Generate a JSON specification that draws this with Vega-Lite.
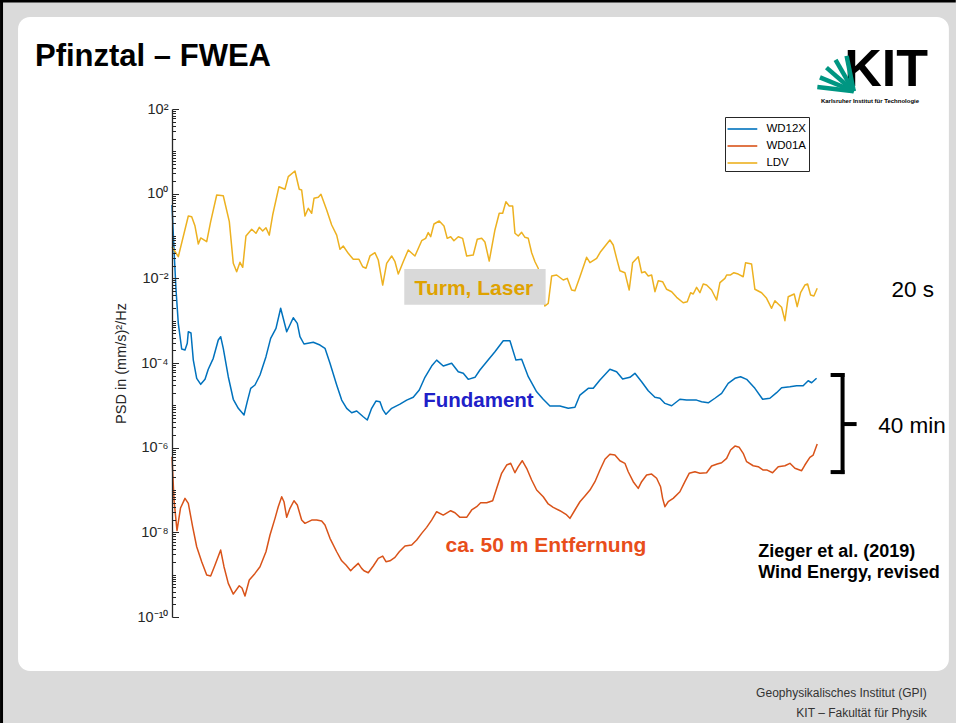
{
"$schema": "https://vega.github.io/schema/vega-lite/v6.json",
"width": 646, "height": 508,
"autosize": {"type": "none"},
"padding": {"left": 172, "top": 109, "right": 138, "bottom": 106},
"background": "#dadada",
"config": {"font": "Liberation Sans", "view": {"stroke": null}},
"resolve": {"axis": {"y": "independent"}},
"layer": [
{"data": {"values": [{}]}, "mark": {"type": "rect", "fill": "white", "cornerRadius": 12},
 "encoding": {"x": {"datum": -2.309, "axis": null}, "x2": {"datum": 12.014}, "y": {"datum": 14900, "axis": null}, "y2": {"datum": 5.28e-12}}},
{"data": {"values": [{}]}, "mark": {"type": "rule", "color": "#000000", "strokeWidth": 3},
 "encoding": {"x": {"datum": -2.586, "axis": null}, "x2": {"datum": 12.12}, "y": {"datum": 35560, "axis": null}}},
{"data": {"values": [{}]}, "mark": {"type": "rule", "color": "#000000", "strokeWidth": 3},
 "encoding": {"x": {"datum": -2.563, "axis": null}, "y": {"datum": 37600, "axis": null}, "y2": {"datum": 3.13e-13}}},
{"data": {"values": [{}]}, "mark": {"type": "text", "text": "Pfinztal – FWEA", "align": "left", "baseline": "alphabetic", "fontSize": 31, "fontWeight": "bold", "color": "#000000"},
 "encoding": {"x": {"datum": -2.048, "axis": null}, "y": {"datum": 1038, "axis": null}}},
{"data": {"values": [{}]}, "mark": {"type": "text", "text": "Geophysikalisches Institut (GPI)", "align": "right", "baseline": "alphabetic", "fontSize": 12, "color": "#333333"},
 "encoding": {"x": {"datum": 11.675, "axis": null}, "y": {"datum": 1.29e-12, "axis": null}}},
{"data": {"values": [{}]}, "mark": {"type": "text", "text": "KIT – Fakultät für Physik", "align": "right", "baseline": "alphabetic", "fontSize": 12, "color": "#333333"},
 "encoding": {"x": {"datum": 11.675, "axis": null}, "y": {"datum": 4.34e-13, "axis": null}}},
{"data": {"values": [{}]}, "mark": {"type": "text", "text": "KIT", "align": "right", "baseline": "alphabetic", "fontSize": 52, "fontWeight": "bold", "color": "#000000"},
 "encoding": {"x": {"datum": 11.691, "axis": null}, "y": {"datum": 349, "axis": null}}},
{"data": {"values": [{}]}, "mark": {"type": "text", "text": "Karlsruher Institut für Technologie", "align": "center", "baseline": "alphabetic", "fontSize": 6, "fontWeight": "bold", "color": "#000000"},
 "encoding": {"x": {"datum": 10.80, "axis": null}, "y": {"datum": 135, "axis": null}}},
{"data": {"values": [{}]}, "mark": {"type": "rule", "color": "#009682", "strokeWidth": 4.5},
 "encoding": {"x": {"datum": 10.55, "axis": null}, "x2": {"datum": 9.99}, "y": {"datum": 262, "axis": null}, "y2": {"datum": 330}}},
{"data": {"values": [{}]}, "mark": {"type": "rule", "color": "#009682", "strokeWidth": 4.5},
 "encoding": {"x": {"datum": 10.55, "axis": null}, "x2": {"datum": 10.03}, "y": {"datum": 262, "axis": null}, "y2": {"datum": 560}}},
{"data": {"values": [{}]}, "mark": {"type": "rule", "color": "#009682", "strokeWidth": 4.5},
 "encoding": {"x": {"datum": 10.55, "axis": null}, "x2": {"datum": 10.13}, "y": {"datum": 262, "axis": null}, "y2": {"datum": 950}}},
{"data": {"values": [{}]}, "mark": {"type": "rule", "color": "#009682", "strokeWidth": 4.5},
 "encoding": {"x": {"datum": 10.55, "axis": null}, "x2": {"datum": 10.27}, "y": {"datum": 262, "axis": null}, "y2": {"datum": 1450}}},
{"data": {"values": [{}]}, "mark": {"type": "rule", "color": "#009682", "strokeWidth": 4.5},
 "encoding": {"x": {"datum": 10.55, "axis": null}, "x2": {"datum": 10.44}, "y": {"datum": 262, "axis": null}, "y2": {"datum": 1800}}},
{"data": {"values": [
{"sensor":"WD12X","freq":0.06,"psd":0.540},{"sensor":"WD12X","freq":0.091,"psd":0.0467},{"sensor":"WD12X","freq":0.122,"psd":0.0053},{"sensor":"WD12X","freq":0.157,"psd":8.65e-4},{"sensor":"WD12X","freq":0.209,"psd":2.14e-4},{"sensor":"WD12X","freq":0.260,"psd":2.03e-4},{"sensor":"WD12X","freq":0.295,"psd":2.92e-4},{"sensor":"WD12X","freq":0.311,"psd":5.48e-4},{"sensor":"WD12X","freq":0.352,"psd":5.11e-4},{"sensor":"WD12X","freq":0.388,"psd":1.17e-4},
{"sensor":"WD12X","freq":0.440,"psd":4.35e-5},{"sensor":"WD12X","freq":0.502,"psd":3.13e-5},{"sensor":"WD12X","freq":0.568,"psd":4.11e-5},{"sensor":"WD12X","freq":0.618,"psd":7.10e-5},{"sensor":"WD12X","freq":0.695,"psd":1.29e-4},{"sensor":"WD12X","freq":0.772,"psd":3.49e-4},{"sensor":"WD12X","freq":0.809,"psd":4.18e-4},{"sensor":"WD12X","freq":0.849,"psd":2.22e-4},{"sensor":"WD12X","freq":0.926,"psd":4.74e-5},{"sensor":"WD12X","freq":1.003,"psd":1.39e-5},
{"sensor":"WD12X","freq":1.080,"psd":8.49e-6},{"sensor":"WD12X","freq":1.168,"psd":5.90e-6},{"sensor":"WD12X","freq":1.218,"psd":1.22e-5},{"sensor":"WD12X","freq":1.271,"psd":2.52e-5},{"sensor":"WD12X","freq":1.337,"psd":3.02e-5},{"sensor":"WD12X","freq":1.414,"psd":5.20e-5},{"sensor":"WD12X","freq":1.506,"psd":1.41e-4},{"sensor":"WD12X","freq":1.578,"psd":3.83e-4},{"sensor":"WD12X","freq":1.660,"psd":6.59e-4},{"sensor":"WD12X","freq":1.732,"psd":1.96e-3},
{"sensor":"WD12X","freq":1.825,"psd":5.48e-4},{"sensor":"WD12X","freq":1.926,"psd":1.17e-3},{"sensor":"WD12X","freq":1.988,"psd":8.65e-4},{"sensor":"WD12X","freq":2.029,"psd":4.18e-4},{"sensor":"WD12X","freq":2.091,"psd":2.81e-4},{"sensor":"WD12X","freq":2.234,"psd":3.08e-4},{"sensor":"WD12X","freq":2.337,"psd":2.66e-4},{"sensor":"WD12X","freq":2.414,"psd":2.22e-4},{"sensor":"WD12X","freq":2.491,"psd":9.82e-5},{"sensor":"WD12X","freq":2.594,"psd":3.02e-5},
{"sensor":"WD12X","freq":2.671,"psd":1.33e-5},{"sensor":"WD12X","freq":2.748,"psd":8.49e-6},{"sensor":"WD12X","freq":2.825,"psd":6.68e-6},{"sensor":"WD12X","freq":2.902,"psd":7.34e-6},{"sensor":"WD12X","freq":3.003,"psd":5.38e-6},{"sensor":"WD12X","freq":3.065,"psd":4.50e-6},{"sensor":"WD12X","freq":3.132,"psd":8.49e-6},{"sensor":"WD12X","freq":3.198,"psd":1.26e-5},{"sensor":"WD12X","freq":3.260,"psd":1.22e-5},{"sensor":"WD12X","freq":3.302,"psd":8.05e-6},
{"sensor":"WD12X","freq":3.352,"psd":6.14e-6},{"sensor":"WD12X","freq":3.440,"psd":8.49e-6},{"sensor":"WD12X","freq":3.568,"psd":1.07e-5},{"sensor":"WD12X","freq":3.671,"psd":1.33e-5},{"sensor":"WD12X","freq":3.772,"psd":1.55e-5},{"sensor":"WD12X","freq":3.865,"psd":2.30e-5},{"sensor":"WD12X","freq":3.952,"psd":4.59e-5},{"sensor":"WD12X","freq":4.055,"psd":8.49e-5},{"sensor":"WD12X","freq":4.132,"psd":1.17e-4},{"sensor":"WD12X","freq":4.234,"psd":8.49e-5},
{"sensor":"WD12X","freq":4.363,"psd":9.82e-5},{"sensor":"WD12X","freq":4.465,"psd":6.22e-5},{"sensor":"WD12X","freq":4.542,"psd":5.70e-5},{"sensor":"WD12X","freq":4.618,"psd":4.11e-5},{"sensor":"WD12X","freq":4.722,"psd":4.59e-5},{"sensor":"WD12X","freq":4.798,"psd":6.82e-5},{"sensor":"WD12X","freq":4.902,"psd":1.07e-4},{"sensor":"WD12X","freq":5.029,"psd":1.85e-4},{"sensor":"WD12X","freq":5.157,"psd":3.36e-4},{"sensor":"WD12X","freq":5.260,"psd":3.36e-4},
{"sensor":"WD12X","freq":5.352,"psd":1.17e-4},{"sensor":"WD12X","freq":5.440,"psd":1.22e-4},{"sensor":"WD12X","freq":5.542,"psd":4.74e-5},{"sensor":"WD12X","freq":5.671,"psd":2.09e-5},{"sensor":"WD12X","freq":5.772,"psd":1.39e-5},{"sensor":"WD12X","freq":5.875,"psd":9.64e-6},{"sensor":"WD12X","freq":6.029,"psd":9.64e-6},{"sensor":"WD12X","freq":6.157,"psd":8.49e-6},{"sensor":"WD12X","freq":6.260,"psd":8.97e-6},{"sensor":"WD12X","freq":6.337,"psd":1.75e-5},
{"sensor":"WD12X","freq":6.465,"psd":2.52e-5},{"sensor":"WD12X","freq":6.542,"psd":2.52e-5},{"sensor":"WD12X","freq":6.645,"psd":3.96e-5},{"sensor":"WD12X","freq":6.798,"psd":7.10e-5},{"sensor":"WD12X","freq":6.901,"psd":6.22e-5},{"sensor":"WD12X","freq":6.994,"psd":4.19e-5},{"sensor":"WD12X","freq":7.106,"psd":4.59e-5},{"sensor":"WD12X","freq":7.183,"psd":5.70e-5},{"sensor":"WD12X","freq":7.286,"psd":3.61e-5},{"sensor":"WD12X","freq":7.388,"psd":2.21e-5},
{"sensor":"WD12X","freq":7.491,"psd":1.55e-5},{"sensor":"WD12X","freq":7.568,"psd":1.47e-5},{"sensor":"WD12X","freq":7.645,"psd":1.11e-5},{"sensor":"WD12X","freq":7.748,"psd":9.79e-6},{"sensor":"WD12X","freq":7.875,"psd":1.39e-5},{"sensor":"WD12X","freq":7.978,"psd":1.33e-5},{"sensor":"WD12X","freq":8.132,"psd":1.33e-5},{"sensor":"WD12X","freq":8.209,"psd":1.22e-5},{"sensor":"WD12X","freq":8.311,"psd":1.15e-5},{"sensor":"WD12X","freq":8.414,"psd":1.47e-5},
{"sensor":"WD12X","freq":8.517,"psd":1.92e-5},{"sensor":"WD12X","freq":8.618,"psd":3.31e-5},{"sensor":"WD12X","freq":8.722,"psd":4.35e-5},{"sensor":"WD12X","freq":8.809,"psd":4.74e-5},{"sensor":"WD12X","freq":8.902,"psd":4.11e-5},{"sensor":"WD12X","freq":9.029,"psd":2.52e-5},{"sensor":"WD12X","freq":9.148,"psd":1.39e-5},{"sensor":"WD12X","freq":9.260,"psd":1.47e-5},{"sensor":"WD12X","freq":9.363,"psd":1.99e-5},{"sensor":"WD12X","freq":9.440,"psd":2.61e-5},
{"sensor":"WD12X","freq":9.568,"psd":2.75e-5},{"sensor":"WD12X","freq":9.671,"psd":2.90e-5},{"sensor":"WD12X","freq":9.772,"psd":2.90e-5},{"sensor":"WD12X","freq":9.849,"psd":3.81e-5},{"sensor":"WD12X","freq":9.902,"psd":3.42e-5},{"sensor":"WD12X","freq":9.978,"psd":4.35e-5},
{"sensor":"WD01A","freq":0.06,"psd":6.11e-7},{"sensor":"WD01A","freq":0.091,"psd":5.79e-8},{"sensor":"WD01A","freq":0.137,"psd":1.10e-8},{"sensor":"WD01A","freq":0.191,"psd":3.75e-8},{"sensor":"WD01A","freq":0.260,"psd":6.35e-8},{"sensor":"WD01A","freq":0.311,"psd":4.84e-8},{"sensor":"WD01A","freq":0.378,"psd":1.35e-8},{"sensor":"WD01A","freq":0.440,"psd":4.57e-9},{"sensor":"WD01A","freq":0.517,"psd":2.02e-9},{"sensor":"WD01A","freq":0.594,"psd":9.79e-10},
{"sensor":"WD01A","freq":0.655,"psd":9.29e-10},{"sensor":"WD01A","freq":0.722,"psd":1.69e-9},{"sensor":"WD01A","freq":0.809,"psd":3.82e-9},{"sensor":"WD01A","freq":0.860,"psd":1.54e-9},{"sensor":"WD01A","freq":0.926,"psd":6.24e-10},{"sensor":"WD01A","freq":1.003,"psd":3.48e-10},{"sensor":"WD01A","freq":1.095,"psd":5.47e-10},{"sensor":"WD01A","freq":1.137,"psd":4.83e-10},{"sensor":"WD01A","freq":1.183,"psd":3.13e-10},{"sensor":"WD01A","freq":1.249,"psd":7.46e-10},
{"sensor":"WD01A","freq":1.337,"psd":1.07e-9},{"sensor":"WD01A","freq":1.414,"psd":1.54e-9},{"sensor":"WD01A","freq":1.506,"psd":3.48e-9},{"sensor":"WD01A","freq":1.568,"psd":8.63e-9},{"sensor":"WD01A","freq":1.645,"psd":2.14e-8},{"sensor":"WD01A","freq":1.695,"psd":4.03e-8},{"sensor":"WD01A","freq":1.748,"psd":6.93e-8},{"sensor":"WD01A","freq":1.783,"psd":5.28e-8},{"sensor":"WD01A","freq":1.825,"psd":2.26e-8},{"sensor":"WD01A","freq":1.875,"psd":3.69e-8},
{"sensor":"WD01A","freq":1.937,"psd":5.57e-8},{"sensor":"WD01A","freq":1.988,"psd":4.42e-8},{"sensor":"WD01A","freq":2.055,"psd":1.95e-8},{"sensor":"WD01A","freq":2.106,"psd":1.63e-8},{"sensor":"WD01A","freq":2.209,"psd":1.95e-8},{"sensor":"WD01A","freq":2.286,"psd":1.95e-8},{"sensor":"WD01A","freq":2.363,"psd":1.85e-8},{"sensor":"WD01A","freq":2.414,"psd":1.49e-8},{"sensor":"WD01A","freq":2.491,"psd":7.21e-9},{"sensor":"WD01A","freq":2.594,"psd":3.48e-9},
{"sensor":"WD01A","freq":2.671,"psd":2.13e-9},{"sensor":"WD01A","freq":2.737,"psd":1.69e-9},{"sensor":"WD01A","freq":2.809,"psd":1.24e-9},{"sensor":"WD01A","freq":2.860,"psd":1.49e-9},{"sensor":"WD01A","freq":2.926,"psd":1.85e-9},{"sensor":"WD01A","freq":2.978,"psd":1.41e-9},{"sensor":"WD01A","freq":3.014,"psd":1.24e-9},{"sensor":"WD01A","freq":3.080,"psd":1.11e-9},{"sensor":"WD01A","freq":3.157,"psd":1.60e-9},{"sensor":"WD01A","freq":3.234,"psd":2.43e-9},
{"sensor":"WD01A","freq":3.302,"psd":2.75e-9},{"sensor":"WD01A","freq":3.352,"psd":2.02e-9},{"sensor":"WD01A","freq":3.414,"psd":2.13e-9},{"sensor":"WD01A","freq":3.491,"psd":2.56e-9},{"sensor":"WD01A","freq":3.557,"psd":3.48e-9},{"sensor":"WD01A","freq":3.645,"psd":4.74e-9},{"sensor":"WD01A","freq":3.748,"psd":5.01e-9},{"sensor":"WD01A","freq":3.825,"psd":6.58e-9},{"sensor":"WD01A","freq":3.902,"psd":9.46e-9},{"sensor":"WD01A","freq":3.978,"psd":1.31e-8},
{"sensor":"WD01A","freq":4.055,"psd":1.95e-8},{"sensor":"WD01A","freq":4.132,"psd":3.07e-8},{"sensor":"WD01A","freq":4.234,"psd":2.56e-8},{"sensor":"WD01A","freq":4.348,"psd":3.24e-8},{"sensor":"WD01A","freq":4.414,"psd":2.90e-8},{"sensor":"WD01A","freq":4.491,"psd":2.26e-8},{"sensor":"WD01A","freq":4.594,"psd":2.26e-8},{"sensor":"WD01A","freq":4.671,"psd":3.37e-8},{"sensor":"WD01A","freq":4.748,"psd":4.03e-8},{"sensor":"WD01A","freq":4.809,"psd":5.00e-8},
{"sensor":"WD01A","freq":4.902,"psd":5.00e-8},{"sensor":"WD01A","freq":4.994,"psd":5.57e-8},{"sensor":"WD01A","freq":5.055,"psd":1.09e-7},{"sensor":"WD01A","freq":5.132,"psd":2.48e-7},{"sensor":"WD01A","freq":5.209,"psd":3.89e-7},{"sensor":"WD01A","freq":5.271,"psd":4.27e-7},{"sensor":"WD01A","freq":5.337,"psd":2.56e-7},{"sensor":"WD01A","freq":5.388,"psd":3.55e-7},{"sensor":"WD01A","freq":5.449,"psd":4.91e-7},{"sensor":"WD01A","freq":5.517,"psd":3.25e-7},
{"sensor":"WD01A","freq":5.594,"psd":1.72e-7},{"sensor":"WD01A","freq":5.671,"psd":9.98e-8},{"sensor":"WD01A","freq":5.772,"psd":6.93e-8},{"sensor":"WD01A","freq":5.849,"psd":4.67e-8},{"sensor":"WD01A","freq":5.926,"psd":3.90e-8},{"sensor":"WD01A","freq":6.029,"psd":3.24e-8},{"sensor":"WD01A","freq":6.122,"psd":2.66e-8},{"sensor":"WD01A","freq":6.183,"psd":2.14e-8},{"sensor":"WD01A","freq":6.260,"psd":3.37e-8},{"sensor":"WD01A","freq":6.337,"psd":5.28e-8},
{"sensor":"WD01A","freq":6.414,"psd":7.21e-8},{"sensor":"WD01A","freq":6.491,"psd":9.98e-8},{"sensor":"WD01A","freq":6.568,"psd":1.57e-7},{"sensor":"WD01A","freq":6.645,"psd":2.96e-7},{"sensor":"WD01A","freq":6.722,"psd":5.31e-7},{"sensor":"WD01A","freq":6.798,"psd":6.97e-7},{"sensor":"WD01A","freq":6.875,"psd":6.70e-7},{"sensor":"WD01A","freq":6.952,"psd":4.91e-7},{"sensor":"WD01A","freq":7.029,"psd":4.27e-7},{"sensor":"WD01A","freq":7.080,"psd":2.70e-7},
{"sensor":"WD01A","freq":7.157,"psd":1.57e-7},{"sensor":"WD01A","freq":7.234,"psd":1.09e-7},{"sensor":"WD01A","freq":7.286,"psd":1.57e-7},{"sensor":"WD01A","freq":7.363,"psd":2.26e-7},{"sensor":"WD01A","freq":7.440,"psd":2.38e-7},{"sensor":"WD01A","freq":7.517,"psd":1.89e-7},{"sensor":"WD01A","freq":7.578,"psd":1.19e-7},{"sensor":"WD01A","freq":7.609,"psd":6.35e-8},{"sensor":"WD01A","freq":7.645,"psd":4.03e-8},{"sensor":"WD01A","freq":7.695,"psd":5.28e-8},
{"sensor":"WD01A","freq":7.772,"psd":6.35e-8},{"sensor":"WD01A","freq":7.875,"psd":9.10e-8},{"sensor":"WD01A","freq":7.952,"psd":1.57e-7},{"sensor":"WD01A","freq":8.018,"psd":2.48e-7},{"sensor":"WD01A","freq":8.106,"psd":2.70e-7},{"sensor":"WD01A","freq":8.183,"psd":2.48e-7},{"sensor":"WD01A","freq":8.286,"psd":2.56e-7},{"sensor":"WD01A","freq":8.363,"psd":3.68e-7},{"sensor":"WD01A","freq":8.449,"psd":4.10e-7},{"sensor":"WD01A","freq":8.517,"psd":4.41e-7},
{"sensor":"WD01A","freq":8.594,"psd":5.60e-7},{"sensor":"WD01A","freq":8.655,"psd":8.79e-7},{"sensor":"WD01A","freq":8.722,"psd":1.09e-6},{"sensor":"WD01A","freq":8.788,"psd":1.02e-6},{"sensor":"WD01A","freq":8.849,"psd":7.35e-7},{"sensor":"WD01A","freq":8.902,"psd":4.66e-7},{"sensor":"WD01A","freq":9.003,"psd":3.74e-7},{"sensor":"WD01A","freq":9.080,"psd":3.55e-7},{"sensor":"WD01A","freq":9.157,"psd":2.96e-7},{"sensor":"WD01A","freq":9.218,"psd":2.96e-7},
{"sensor":"WD01A","freq":9.301,"psd":2.56e-7},{"sensor":"WD01A","freq":9.388,"psd":3.55e-7},{"sensor":"WD01A","freq":9.491,"psd":3.74e-7},{"sensor":"WD01A","freq":9.568,"psd":4.27e-7},{"sensor":"WD01A","freq":9.645,"psd":3.25e-7},{"sensor":"WD01A","freq":9.748,"psd":2.85e-7},{"sensor":"WD01A","freq":9.798,"psd":3.89e-7},{"sensor":"WD01A","freq":9.875,"psd":5.92e-7},{"sensor":"WD01A","freq":9.926,"psd":6.70e-7},{"sensor":"WD01A","freq":9.988,"psd":1.22e-6},
{"sensor":"LDV","freq":0.06,"psd":0.0558},{"sensor":"LDV","freq":0.157,"psd":0.0324},{"sensor":"LDV","freq":0.311,"psd":0.296},{"sensor":"LDV","freq":0.363,"psd":0.286},{"sensor":"LDV","freq":0.414,"psd":0.172},{"sensor":"LDV","freq":0.465,"psd":0.0647},{"sensor":"LDV","freq":0.502,"psd":0.0898},{"sensor":"LDV","freq":0.594,"psd":0.0733},{"sensor":"LDV","freq":0.655,"psd":0.218},{"sensor":"LDV","freq":0.748,"psd":0.929},
{"sensor":"LDV","freq":0.849,"psd":0.895},{"sensor":"LDV","freq":0.942,"psd":0.218},{"sensor":"LDV","freq":1.003,"psd":0.0226},{"sensor":"LDV","freq":1.055,"psd":0.0143},{"sensor":"LDV","freq":1.106,"psd":0.0239},{"sensor":"LDV","freq":1.148,"psd":0.0182},{"sensor":"LDV","freq":1.198,"psd":0.1},{"sensor":"LDV","freq":1.286,"psd":0.144},{"sensor":"LDV","freq":1.352,"psd":0.116},{"sensor":"LDV","freq":1.403,"psd":0.160},
{"sensor":"LDV","freq":1.455,"psd":0.131},{"sensor":"LDV","freq":1.506,"psd":0.157},{"sensor":"LDV","freq":1.557,"psd":0.105},{"sensor":"LDV","freq":1.609,"psd":0.313},{"sensor":"LDV","freq":1.706,"psd":1.46},{"sensor":"LDV","freq":1.798,"psd":1.27},{"sensor":"LDV","freq":1.849,"psd":2.52},{"sensor":"LDV","freq":1.952,"psd":3.43},{"sensor":"LDV","freq":2.018,"psd":1.27},{"sensor":"LDV","freq":2.055,"psd":1.22},
{"sensor":"LDV","freq":2.106,"psd":0.296},{"sensor":"LDV","freq":2.157,"psd":0.451},{"sensor":"LDV","freq":2.209,"psd":0.344},{"sensor":"LDV","freq":2.245,"psd":0.776},{"sensor":"LDV","freq":2.311,"psd":0.820},{"sensor":"LDV","freq":2.352,"psd":0.966},{"sensor":"LDV","freq":2.440,"psd":0.411},{"sensor":"LDV","freq":2.517,"psd":0.182},{"sensor":"LDV","freq":2.594,"psd":0.105},{"sensor":"LDV","freq":2.645,"psd":0.0485},
{"sensor":"LDV","freq":2.695,"psd":0.0581},{"sensor":"LDV","freq":2.772,"psd":0.0390},{"sensor":"LDV","freq":2.849,"psd":0.0281},{"sensor":"LDV","freq":2.937,"psd":0.0281},{"sensor":"LDV","freq":2.994,"psd":0.0188},{"sensor":"LDV","freq":3.045,"psd":0.0173},{"sensor":"LDV","freq":3.106,"psd":0.0337},{"sensor":"LDV","freq":3.183,"psd":0.0403},{"sensor":"LDV","freq":3.234,"psd":0.0271},{"sensor":"LDV","freq":3.302,"psd":0.00695},
{"sensor":"LDV","freq":3.363,"psd":0.0226},{"sensor":"LDV","freq":3.440,"psd":0.0337},{"sensor":"LDV","freq":3.491,"psd":0.0247},{"sensor":"LDV","freq":3.542,"psd":0.0126},{"sensor":"LDV","freq":3.618,"psd":0.0247},{"sensor":"LDV","freq":3.695,"psd":0.0467},{"sensor":"LDV","freq":3.798,"psd":0.0337},{"sensor":"LDV","freq":3.902,"psd":0.0774},{"sensor":"LDV","freq":3.963,"psd":0.0881},{"sensor":"LDV","freq":4.003,"psd":0.120},
{"sensor":"LDV","freq":4.040,"psd":0.0962},{"sensor":"LDV","freq":4.091,"psd":0.192},{"sensor":"LDV","freq":4.172,"psd":0.226},{"sensor":"LDV","freq":4.245,"psd":0.172},{"sensor":"LDV","freq":4.295,"psd":0.0881},{"sensor":"LDV","freq":4.348,"psd":0.0962},{"sensor":"LDV","freq":4.398,"psd":0.0774},{"sensor":"LDV","freq":4.465,"psd":0.0962},{"sensor":"LDV","freq":4.532,"psd":0.0881},{"sensor":"LDV","freq":4.594,"psd":0.0337},
{"sensor":"LDV","freq":4.695,"psd":0.0356},{"sensor":"LDV","freq":4.757,"psd":0.0836},{"sensor":"LDV","freq":4.825,"psd":0.0881},{"sensor":"LDV","freq":4.875,"psd":0.0721},{"sensor":"LDV","freq":4.941,"psd":0.0256},{"sensor":"LDV","freq":5.029,"psd":0.139},{"sensor":"LDV","freq":5.095,"psd":0.344},{"sensor":"LDV","freq":5.148,"psd":0.344},{"sensor":"LDV","freq":5.198,"psd":0.646},{"sensor":"LDV","freq":5.249,"psd":0.511},
{"sensor":"LDV","freq":5.302,"psd":0.511},{"sensor":"LDV","freq":5.337,"psd":0.116},{"sensor":"LDV","freq":5.388,"psd":0.1},{"sensor":"LDV","freq":5.440,"psd":0.122},{"sensor":"LDV","freq":5.491,"psd":0.0931},{"sensor":"LDV","freq":5.542,"psd":0.0881},{"sensor":"LDV","freq":5.594,"psd":0.0403},{"sensor":"LDV","freq":5.645,"psd":0.0247},{"sensor":"LDV","freq":5.695,"psd":0.0173},{"sensor":"LDV","freq":5.752,"psd":0.0053},
{"sensor":"LDV","freq":5.798,"psd":0.00222},{"sensor":"LDV","freq":5.849,"psd":0.00257},{"sensor":"LDV","freq":5.902,"psd":0.0114},{"sensor":"LDV","freq":5.978,"psd":0.0120},{"sensor":"LDV","freq":6.080,"psd":0.00912},{"sensor":"LDV","freq":6.142,"psd":0.0100},{"sensor":"LDV","freq":6.209,"psd":0.0053},{"sensor":"LDV","freq":6.260,"psd":0.0051},{"sensor":"LDV","freq":6.337,"psd":0.0109},{"sensor":"LDV","freq":6.440,"psd":0.0314},
{"sensor":"LDV","freq":6.491,"psd":0.0234},{"sensor":"LDV","freq":6.594,"psd":0.0297},{"sensor":"LDV","freq":6.655,"psd":0.0426},{"sensor":"LDV","freq":6.737,"psd":0.0612},{"sensor":"LDV","freq":6.798,"psd":0.0804},{"sensor":"LDV","freq":6.849,"psd":0.0612},{"sensor":"LDV","freq":6.901,"psd":0.0297},{"sensor":"LDV","freq":6.952,"psd":0.0151},{"sensor":"LDV","freq":7.029,"psd":0.0136},{"sensor":"LDV","freq":7.095,"psd":0.0053},
{"sensor":"LDV","freq":7.148,"psd":0.0234},{"sensor":"LDV","freq":7.234,"psd":0.0324},{"sensor":"LDV","freq":7.286,"psd":0.0136},{"sensor":"LDV","freq":7.337,"psd":0.0143},{"sensor":"LDV","freq":7.388,"psd":0.0114},{"sensor":"LDV","freq":7.440,"psd":0.0120},{"sensor":"LDV","freq":7.491,"psd":0.00483},{"sensor":"LDV","freq":7.542,"psd":0.00879},{"sensor":"LDV","freq":7.609,"psd":0.00832},{"sensor":"LDV","freq":7.671,"psd":0.00551},
{"sensor":"LDV","freq":7.748,"psd":0.00483},{"sensor":"LDV","freq":7.825,"psd":0.00356},{"sensor":"LDV","freq":7.926,"psd":0.00265},{"sensor":"LDV","freq":7.988,"psd":0.00281},{"sensor":"LDV","freq":8.040,"psd":0.00457},{"sensor":"LDV","freq":8.080,"psd":0.00427},{"sensor":"LDV","freq":8.132,"psd":0.00614},{"sensor":"LDV","freq":8.183,"psd":0.00457},{"sensor":"LDV","freq":8.234,"psd":0.00735},{"sensor":"LDV","freq":8.286,"psd":0.00695},
{"sensor":"LDV","freq":8.363,"psd":0.0053},{"sensor":"LDV","freq":8.440,"psd":0.00308},{"sensor":"LDV","freq":8.491,"psd":0.00789},{"sensor":"LDV","freq":8.568,"psd":0.0100},{"sensor":"LDV","freq":8.594,"psd":0.0120},{"sensor":"LDV","freq":8.655,"psd":0.0120},{"sensor":"LDV","freq":8.706,"psd":0.0136},{"sensor":"LDV","freq":8.772,"psd":0.0126},{"sensor":"LDV","freq":8.849,"psd":0.0109},{"sensor":"LDV","freq":8.886,"psd":0.0234},
{"sensor":"LDV","freq":8.978,"psd":0.0218},{"sensor":"LDV","freq":9.029,"psd":0.00551},{"sensor":"LDV","freq":9.132,"psd":0.00457},{"sensor":"LDV","freq":9.209,"psd":0.00337},{"sensor":"LDV","freq":9.286,"psd":0.00196},{"sensor":"LDV","freq":9.337,"psd":0.00296},{"sensor":"LDV","freq":9.388,"psd":0.00247},{"sensor":"LDV","freq":9.440,"psd":0.00207},{"sensor":"LDV","freq":9.491,"psd":0.0010},{"sensor":"LDV","freq":9.542,"psd":0.00368},
{"sensor":"LDV","freq":9.634,"psd":0.00427},{"sensor":"LDV","freq":9.680,"psd":0.00214},{"sensor":"LDV","freq":9.732,"psd":0.00457},{"sensor":"LDV","freq":9.798,"psd":0.00695},{"sensor":"LDV","freq":9.840,"psd":0.00735},{"sensor":"LDV","freq":9.886,"psd":0.00404},{"sensor":"LDV","freq":9.937,"psd":0.00382},{"sensor":"LDV","freq":9.988,"psd":0.00581}
]},
 "mark": {"type": "line", "strokeWidth": 1.5, "strokeJoin": "round"},
 "encoding": {
  "x": {"field": "freq", "type": "quantitative", "scale": {"domain": [0.06, 10], "nice": false, "zero": false},
        "axis": {"values": [1,2,3,4,5,6,7,8,9,10], "format": "d", "title": "Frequency in Hz", "titleFontSize": 14.5, "titleFontWeight": "normal", "titleColor": "#262626", "titlePadding": 10, "labelFontSize": 13, "labelColor": "#262626", "labelPadding": 16, "labelFlush": false, "labelOverlap": false, "tickSize": -6.5, "tickColor": "#262626", "tickWidth": 1, "domainColor": "#262626", "domainWidth": 1.3, "grid": false, "zindex": 1}},
  "y": {"field": "psd", "type": "quantitative", "scale": {"type": "log", "domain": [1e-10, 100], "nice": false},
        "axis": {"orient": "left", "values": [1e-10, 1e-8, 1e-6, 1e-4, 1e-2, 1, 100], "labelExpr": "datum.value > 10 ? '10²' : datum.value > 0.1 ? '10⁰' : datum.value > 0.001 ? '10⁻²' : datum.value > 0.00001 ? '10⁻⁴' : datum.value > 0.0000001 ? '10⁻⁶' : datum.value > 0.000000001 ? '10⁻⁸' : '10⁻¹⁰'", "title": "PSD in (mm/s)²/Hz", "titleFontSize": 14.5, "titleFontWeight": "normal", "titleColor": "#262626", "titlePadding": 9, "labelFontSize": 14.5, "labelColor": "#262626", "labelPadding": 10.5, "labelFlush": false, "labelOverlap": false, "tickSize": -6.5, "tickColor": "#262626", "tickWidth": 1, "domainColor": "#262626", "domainWidth": 1.3, "grid": false, "zindex": 1}},
  "color": {"field": "sensor", "type": "nominal", "scale": {"domain": ["WD12X", "WD01A", "LDV"], "range": ["#0072BD", "#D95319", "#EDB120"]},
            "legend": {"orient": "none", "legendX": 553, "legendY": 8, "title": null, "symbolType": "M-1.75,0H1.75", "symbolSize": 289, "symbolOffset": 5.4, "symbolStrokeWidth": 1.6, "labelFontSize": 11.5, "labelColor": "#000000", "strokeColor": "#262626", "fillColor": "#ffffff", "padding": 2.5, "rowPadding": 2, "labelOffset": 14.5, "zindex": 1}}
 }},
{"data": {"values": [{}]}, "mark": {"type": "rule", "opacity": 0},
 "encoding": {"y": {"datum": 1, "type": "quantitative", "axis": {"orient": "left", "values": [2e-10,3e-10,4e-10,5e-10,6e-10,7e-10,8e-10,9e-10,1e-9,2e-9,3e-9,4e-9,5e-9,6e-9,7e-9,8e-9,9e-9,2e-8,3e-8,4e-8,5e-8,6e-8,7e-8,8e-8,9e-8,1e-7,2e-7,3e-7,4e-7,5e-7,6e-7,7e-7,8e-7,9e-7,2e-6,3e-6,4e-6,5e-6,6e-6,7e-6,8e-6,9e-6,1e-5,2e-5,3e-5,4e-5,5e-5,6e-5,7e-5,8e-5,9e-5,2e-4,3e-4,4e-4,5e-4,6e-4,7e-4,8e-4,9e-4,1e-3,2e-3,3e-3,4e-3,5e-3,6e-3,7e-3,8e-3,9e-3,2e-2,3e-2,4e-2,5e-2,6e-2,7e-2,8e-2,9e-2,0.1,0.2,0.3,0.4,0.5,0.6,0.7,0.8,0.9,2,3,4,5,6,7,8,9,10,20,30,40,50,60,70,80,90], "labels": false, "domain": false, "tickSize": -3.5, "tickColor": "#262626", "tickWidth": 1, "title": null, "grid": false, "zindex": 1}}}},
{"data": {"values": [{}]}, "mark": {"type": "rect", "fill": "#d9d9d9"},
 "encoding": {"x": {"datum": 3.634, "axis": null}, "x2": {"datum": 5.809}, "y": {"datum": 0.0166, "axis": null}, "y2": {"datum": 0.00238}}},
{"data": {"values": [{}]}, "mark": {"type": "text", "text": "Turm, Laser", "align": "center", "baseline": "alphabetic", "fontSize": 21, "fontWeight": "bold", "color": "#DFA200"},
 "encoding": {"x": {"datum": 4.706, "axis": null}, "y": {"datum": 0.00404, "axis": null}}},
{"data": {"values": [{}]}, "mark": {"type": "text", "text": "Fundament", "align": "center", "baseline": "alphabetic", "fontSize": 20.5, "fontWeight": "bold", "color": "#2020C8"},
 "encoding": {"x": {"datum": 4.775, "axis": null}, "y": {"datum": 8.97e-6, "axis": null}}},
{"data": {"values": [{}]}, "mark": {"type": "text", "text": "ca. 50 m Entfernung", "align": "center", "baseline": "alphabetic", "fontSize": 21, "fontWeight": "bold", "color": "#E84E1B"},
 "encoding": {"x": {"datum": 5.814, "axis": null}, "y": {"datum": 3.48e-9, "axis": null}}},
{"data": {"values": [{}]}, "mark": {"type": "text", "text": "Zieger et al. (2019)", "align": "left", "baseline": "alphabetic", "fontSize": 18, "fontWeight": "bold", "color": "#000000"},
 "encoding": {"x": {"datum": 9.08, "axis": null}, "y": {"datum": 2.65e-9, "axis": null}}},
{"data": {"values": [{}]}, "mark": {"type": "text", "text": "Wind Energy, revised", "align": "left", "baseline": "alphabetic", "fontSize": 18, "fontWeight": "bold", "color": "#000000"},
 "encoding": {"x": {"datum": 9.08, "axis": null}, "y": {"datum": 8.18e-10, "axis": null}}},
{"data": {"values": [{}]}, "mark": {"type": "text", "text": "20 s", "align": "left", "baseline": "alphabetic", "fontSize": 22.5, "color": "#000000"},
 "encoding": {"x": {"datum": 11.132, "axis": null}, "y": {"datum": 0.00368, "axis": null}}},
{"data": {"values": [{}]}, "mark": {"type": "text", "text": "40 min", "align": "left", "baseline": "alphabetic", "fontSize": 22.5, "color": "#000000"},
 "encoding": {"x": {"datum": 10.926, "axis": null}, "y": {"datum": 2.25e-6, "axis": null}}},
{"data": {"values": [{}]}, "mark": {"type": "rule", "color": "#000000", "strokeWidth": 4, "strokeCap": "square"},
 "encoding": {"x": {"datum": 10.378, "axis": null}, "y": {"datum": 5.2e-5, "axis": null}, "y2": {"datum": 2.65e-7}}},
{"data": {"values": [{}]}, "mark": {"type": "rule", "color": "#000000", "strokeWidth": 4, "strokeCap": "square"},
 "encoding": {"x": {"datum": 10.225, "axis": null}, "x2": {"datum": 10.378}, "y": {"datum": 5.2e-5, "axis": null}}},
{"data": {"values": [{}]}, "mark": {"type": "rule", "color": "#000000", "strokeWidth": 4, "strokeCap": "square"},
 "encoding": {"x": {"datum": 10.225, "axis": null}, "x2": {"datum": 10.378}, "y": {"datum": 2.65e-7, "axis": null}}},
{"data": {"values": [{}]}, "mark": {"type": "rule", "color": "#000000", "strokeWidth": 4},
 "encoding": {"x": {"datum": 10.378, "axis": null}, "x2": {"datum": 10.594}, "y": {"datum": 3.61e-6, "axis": null}}}
]
}
